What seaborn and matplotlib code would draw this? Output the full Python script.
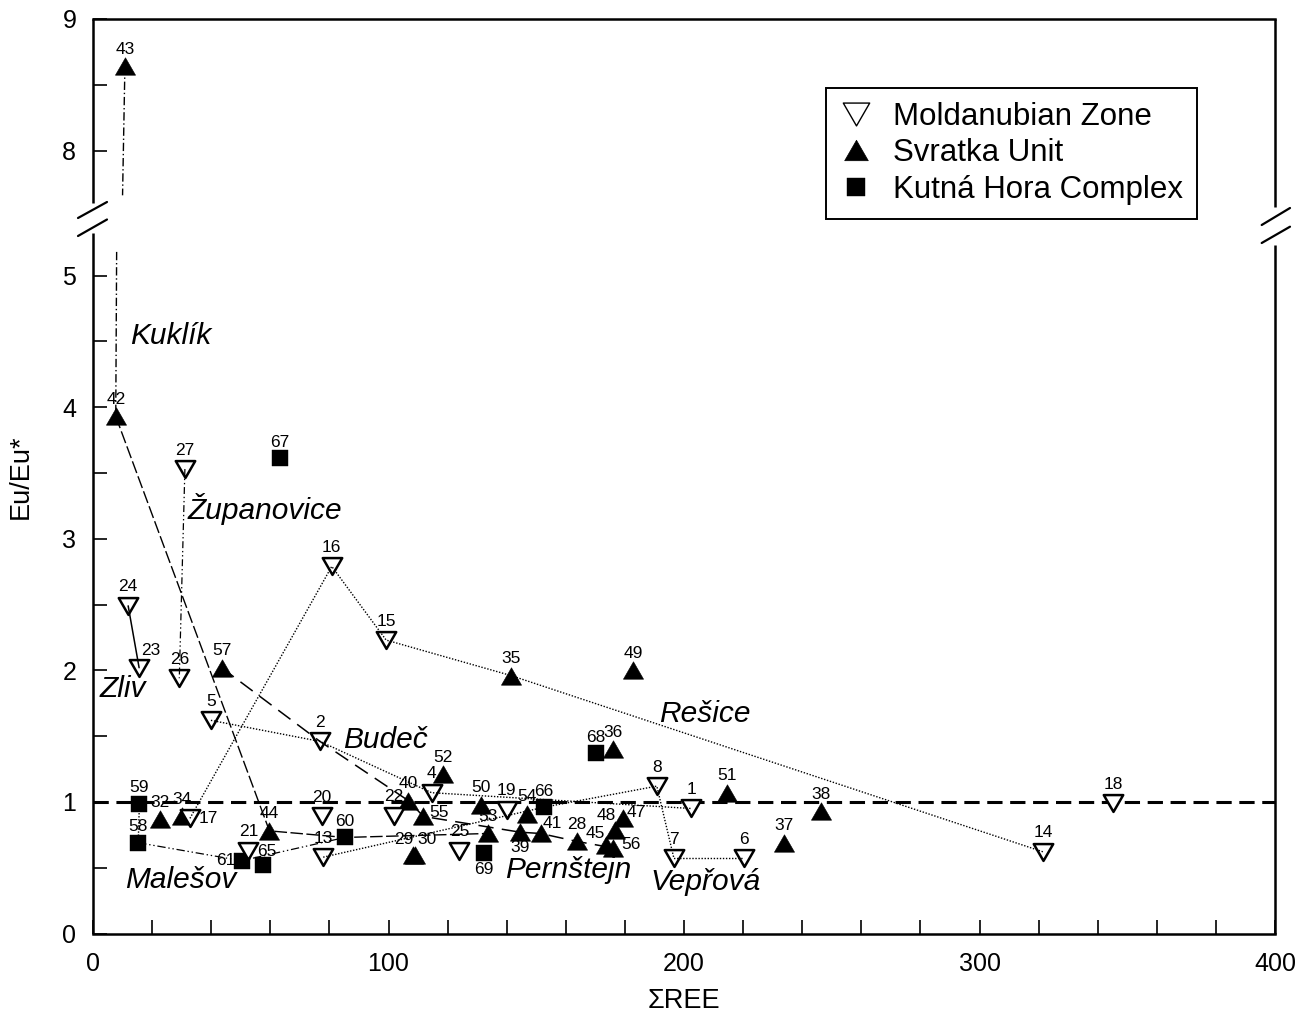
import numpy as np
import matplotlib
matplotlib.use("Agg")
import matplotlib.pyplot as plt
import seaborn as sns
from matplotlib.path import Path
from matplotlib.markers import MarkerStyle
from matplotlib.lines import Line2D
from matplotlib.ticker import FixedLocator, FuncFormatter

# ---------------- data ----------------
# Moldanubian Zone (open down triangles)
mz_ids = [1, 2, 4, 5, 6, 7, 8, 13, 14, 15, 16, 17, 18, 19, 20, 21, 22, 23, 24, 25, 26, 27]
mz_x = [202.4, 76.8, 114.6, 39.9, 220.4, 196.6, 190.8, 77.9, 321.6, 99.2, 80.8, 32.8,
        345.3, 140.0, 77.4, 52.6, 101.9, 15.6, 11.9, 124.0, 29.2, 31.1]
mz_y = [0.95, 1.46, 1.07, 1.62, 0.57, 0.57, 1.12, 0.58, 0.62, 2.23, 2.79, 0.875,
        0.99, 0.94, 0.89, 0.63, 0.895, 2.02, 2.49, 0.63, 1.94, 3.53]

# Svratka Unit (filled up triangles)
su_ids = [28, 29, 30, 32, 34, 35, 36, 37, 38, 39, 40, 41, 42, 43, 44, 45, 47, 48, 49,
          50, 51, 52, 53, 54, 55, 56, 57]
su_x = [163.7, 108.4, 108.9, 22.7, 30.0, 141.5, 176.1, 233.9, 246.4, 144.5, 106.7, 151.5,
        7.7, 10.8, 59.7, 173.6, 179.2, 176.6, 182.8, 131.3, 214.4, 118.5, 133.6, 146.8,
        111.8, 176.1, 43.5]
su_y = [0.70, 0.60, 0.60, 0.87, 0.89, 1.96, 1.40, 0.69, 0.93, 0.77, 1.01, 0.76,
        3.93, 8.64, 0.78, 0.67, 0.88, 0.79, 2.00, 0.98, 1.07, 1.21, 0.76, 0.91,
        0.89, 0.65, 2.02]

# Kutna Hora Complex (filled squares)
kh_ids = [58, 59, 60, 61, 65, 66, 67, 68, 69]
kh_x = [15.3, 15.7, 85.3, 50.3, 57.6, 152.7, 63.3, 170.2, 132.3]
kh_y = [0.69, 0.985, 0.73, 0.553, 0.52, 0.96, 3.61, 1.37, 0.61]

# connecting lines (sample ids in drawing order)
line_zliv = [24, 23]
line_zupanovice = [27, 26]
line_kuklik = [42, 44, 60, 53]
line_budec_dash = [57, 2, 40, 55, 39, 41, 28, 56]
line_budec_dot = [5, 2, 4, 1]
line_resice = [17, 16, 15, 35, 14]
line_veprova = [13, 66, 8, 7, 6]
line_malesov = [58, 61, 60]
line_malesov_v = [59, 58]
# Kukl\u00edk trend line interrupted by the axis break (43 -> 42)
kuklik_upper_x = [10.8, 10.0]
kuklik_upper_y = [8.64, 7.66]
kuklik_lower_x = [8.0, 7.7]
kuklik_lower_y = [5.18, 3.93]

ref_level = 1.0

localities = ["Kukl\u00edk", "\u017dupanovice", "Zliv", "Bude\u010d", "Re\u0161ice",
              "Male\u0161ov", "Pern\u0161tejn", "Vep\u0159ov\u00e1"]
loc_x = [12.5, 32.0, 2.1, 84.7, 191.5, 10.8, 139.4, 188.5]
loc_y = [4.48, 3.15, 1.80, 1.41, 1.61, 0.344, 0.42, 0.33]

legend_labels = ["Moldanubian Zone", "Svratka Unit", "Kutn\u00e1 Hora Complex"]

x_ticks = list(range(0, 401, 20))
y_ticks = [0, 0.5, 1, 1.5, 2, 2.5, 3, 3.5, 4, 4.5, 5, 8, 8.5, 9]

# label offsets in pixels (dx, dy); default above the marker
label_offsets = {23: (12, 17), 17: (18, 0), 61: (-16, 0), 65: (4, 14), 55: (16, 4),
                 29: (-10, 15), 30: (12, 15), 69: (0, -16), 39: (0, -15), 41: (12, 10),
                 45: (-11, 12), 56: (18, 3), 48: (-9, 14), 47: (14, 5)}

# ---------------- style ----------------
sns.set_theme(style="ticks")
plt.rcParams['font.family'] = ['Liberation Sans', 'DejaVu Sans']
plt.rcParams['lines.scale_dashes'] = False
plt.rcParams['axes.unicode_minus'] = False

BREAK_LO, BREAK_HI = 5.45, 7.5
GAP = BREAK_HI - BREAK_LO


def fwd(y):
    y = np.asarray(y, dtype=float)
    return np.where(y <= BREAK_LO, y, np.where(y >= BREAK_HI, y - GAP, BREAK_LO))


def inv(t):
    t = np.asarray(t, dtype=float)
    return np.where(t <= BREAK_LO, t, t + GAP)


W, H = 1298, 1036
fig = plt.figure(figsize=(W / 100, H / 100), dpi=100)
ax = fig.add_axes([93 / W, 1 - 933.5 / H, 1182 / W, 914.5 / H])
ax.set_yscale('function', functions=(fwd, inv))

codes = [Path.MOVETO, Path.LINETO, Path.LINETO, Path.CLOSEPOLY]
tri_up = MarkerStyle(Path([(-1, -0.866), (1, -0.866), (0, 0.866), (-1, -0.866)], codes),
                     joinstyle='miter')
tri_down = MarkerStyle(Path([(-1, 0.866), (1, 0.866), (0, -0.866), (-1, 0.866)], codes),
                       joinstyle='miter')
square = MarkerStyle('s')

# reference line Eu/Eu* = 1
ax.axhline(ref_level, color='black', lw=2.2, ls=(0, (11, 5.5)), zorder=1.5)

# points
sns.scatterplot(x=kh_x, y=kh_y, marker=square, s=11.3 ** 2, color='black',
                edgecolor='black', linewidth=0.3, ax=ax, zorder=2)
sns.scatterplot(x=su_x, y=su_y, marker=tri_up, s=14.5 ** 2, color='black',
                edgecolor='black', linewidth=0.4, ax=ax, zorder=2.1)
sns.scatterplot(x=mz_x, y=mz_y, marker=tri_down, s=14 ** 2, color='white',
                edgecolor='black', linewidth=1.8, ax=ax, zorder=2.2)

# lookup
pts = {}
for ids, xs, ys in ((mz_ids, mz_x, mz_y), (su_ids, su_x, su_y), (kh_ids, kh_x, kh_y)):
    for i, xv, yv in zip(ids, xs, ys):
        pts[i] = (xv, yv)


def draw_line(ids, **kw):
    xs = [pts[i][0] for i in ids]
    ys = [pts[i][1] for i in ids]
    sns.lineplot(x=xs, y=ys, sort=False, estimator=None, color='black', ax=ax,
                 zorder=3, **kw)


dotted = dict(lw=1.0, linestyle=(0, (1.0, 1.2)))
draw_line(line_zliv, lw=1.1, linestyle='-')
draw_line(line_zupanovice, lw=0.9, linestyle=(0, (5, 2, 1, 2, 1, 2)))
draw_line(line_kuklik, lw=1.0, linestyle=(0, (9, 2.5)))
draw_line(line_budec_dash, lw=1.1, linestyle=(0, (11, 6)))
draw_line(line_budec_dot, **dotted)
draw_line(line_resice, **dotted)
draw_line(line_veprova, **dotted)
draw_line(line_malesov, lw=0.9, linestyle=(0, (6, 2, 1, 2, 1, 2)))
draw_line(line_malesov_v, **dotted)
sns.lineplot(x=kuklik_upper_x, y=kuklik_upper_y, sort=False, estimator=None, color='black',
             lw=1.0, linestyle=(0, (6, 2, 1, 2)), ax=ax, zorder=3)
sns.lineplot(x=kuklik_lower_x, y=kuklik_lower_y, sort=False, estimator=None, color='black',
             lw=1.0, linestyle=(0, (6, 2, 1, 2)), ax=ax, zorder=3)

# point labels
PX2PT = 0.72
for ids, dy_def in ((mz_ids, 19), (su_ids, 17), (kh_ids, 16)):
    for i in ids:
        dx, dy = label_offsets.get(i, (0, dy_def))
        ax.annotate(str(i), pts[i], xytext=(dx * PX2PT, dy * PX2PT),
                    textcoords='offset points', ha='center', va='center',
                    fontsize=12.5, color='black', zorder=4)

# locality labels
for name, lx, ly in zip(localities, loc_x, loc_y):
    ax.text(lx, ly, name, fontsize=21.5, style='italic', ha='left', va='baseline',
            color='black', zorder=4)

# axes limits and ticks
ax.set_xlim(0, 400)
ax.set_ylim(0, 9)
ax.xaxis.set_major_locator(FixedLocator(x_ticks))
ax.xaxis.set_major_formatter(FuncFormatter(
    lambda v, p: f"{int(round(v))}" if int(round(v)) % 100 == 0 else ""))
ax.yaxis.set_major_locator(FixedLocator(y_ticks))
ax.yaxis.set_major_formatter(FuncFormatter(
    lambda v, p: f"{int(round(v))}" if abs(v - round(v)) < 1e-6 else ""))
ax.yaxis.set_minor_locator(FixedLocator([]))
ax.xaxis.set_minor_locator(FixedLocator([]))
ax.tick_params(axis='both', which='major', direction='in', length=10, width=1.2,
               labelsize=18, top=False, right=False, colors='black')
ax.tick_params(axis='x', pad=13)
ax.tick_params(axis='y', pad=12)

ax.set_xlabel("\u03a3REE", fontsize=19.5, color='black')
ax.set_ylabel("Eu/Eu*", fontsize=19.5, color='black')
ax.xaxis.set_label_coords(0.5, -0.060)
ax.yaxis.set_label_coords(-0.050, 0.5)

# spines with axis break
for s in ('top', 'bottom'):
    ax.spines[s].set_linewidth(1.8)
    ax.spines[s].set_color('black')
ax.spines['left'].set_visible(False)
ax.spines['right'].set_visible(False)


def fr(py):
    return (933.5 - py) / 914.5


seg_kw = dict(transform=ax.transAxes, clip_on=False, color='black', lw=1.8,
              solid_capstyle='butt', zorder=5)
ax.plot([0, 0], [0, fr(233)], **seg_kw)
ax.plot([0, 0], [fr(203), 1], **seg_kw)
ax.plot([1, 1], [0, fr(245)], **seg_kw)
ax.plot([1, 1], [fr(207), 1], **seg_kw)
mk_kw = dict(transform=ax.transAxes, clip_on=False, color='black', lw=1.6, zorder=5)
lx0, lx1 = (78 - 93) / 1182, (107 - 93) / 1182
ax.plot([lx0, lx1], [fr(218), fr(202)], **mk_kw)
ax.plot([lx0, lx1], [fr(236), fr(219.5)], **mk_kw)
rx0, rx1 = 1 + (1261.7 - 1275) / 1182, 1 + (1290 - 1275) / 1182
ax.plot([rx0, rx1], [fr(225), fr(208)], **mk_kw)
ax.plot([rx0, rx1], [fr(243), fr(226.7)], **mk_kw)

# legend
handles = [
    Line2D([], [], marker=tri_down, ls='none', mfc='white', mec='black', mew=1.0, ms=19),
    Line2D([], [], marker=tri_up, ls='none', mfc='black', mec='black', mew=0.5, ms=17),
    Line2D([], [], marker=square, ls='none', mfc='black', mec='black', mew=0.3, ms=13),
]
leg = ax.legend(handles, legend_labels, loc='upper left',
                bbox_to_anchor=((826 - 93) / 1182, fr(88)), fontsize=22.5,
                frameon=True, fancybox=False, framealpha=1, edgecolor='black',
                borderpad=0.45, handlelength=1.0, handletextpad=0.7,
                labelspacing=0.2, borderaxespad=0)
leg.get_frame().set_linewidth(1.4)
for t in leg.get_texts():
    t.set_color('black')

fig.savefig("out.png", dpi=100)
